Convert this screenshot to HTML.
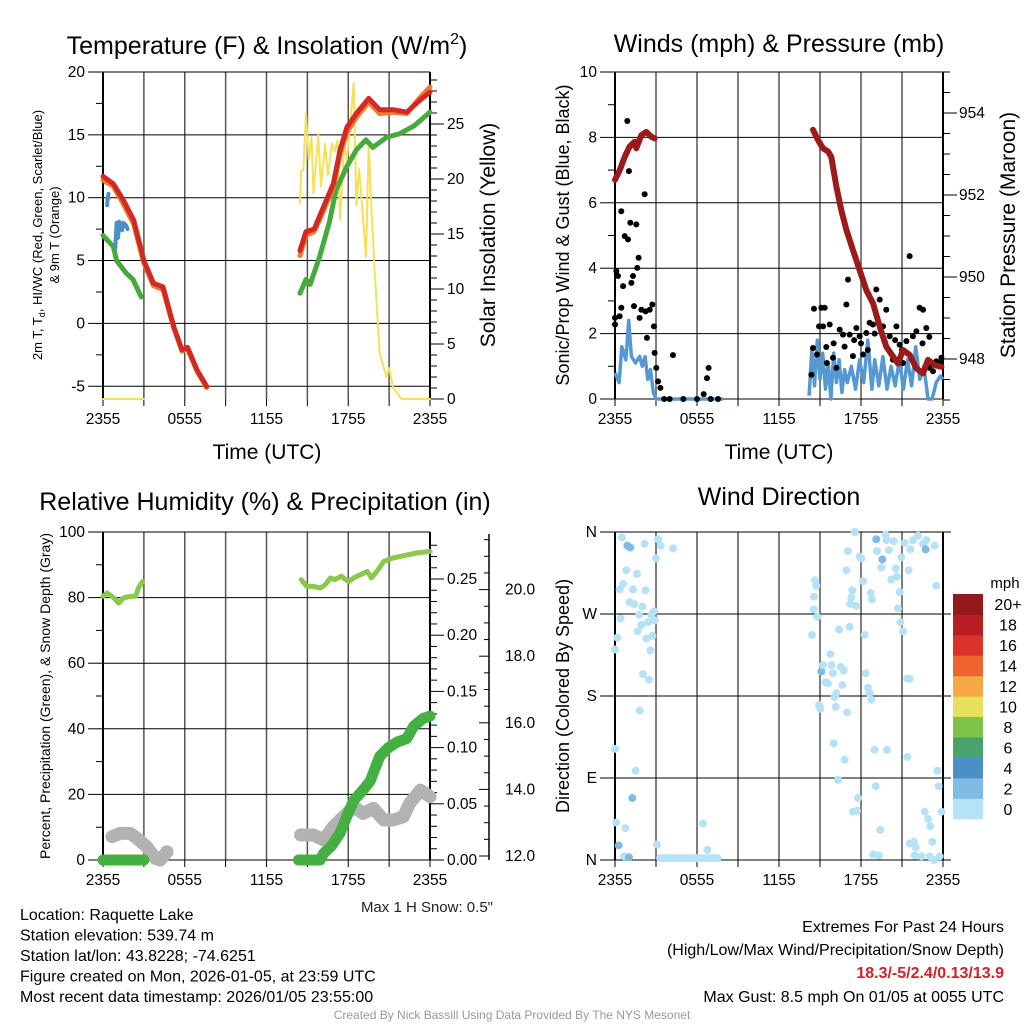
<!DOCTYPE html>
<html><head><meta charset="utf-8"><style>
html,body{margin:0;padding:0;background:#fff;}
svg{display:block;font-family:"Liberation Sans",sans-serif;}
</style></head><body>
<svg id="s" width="1024" height="1024" viewBox="0 0 1024 1024" xmlns="http://www.w3.org/2000/svg">
<rect width="1024" height="1024" fill="#fff"/>
<g id="g"></g>
</svg>
<script>
// ---------- DATA ----------
const tempT=[0,0.76,1.5,2.25,3,3.7,4.4,5.2,5.8,6.2,6.9,7.6,null,14.46,14.9,15.5,16.2,16.9,17.4,17.9,18.6,19.5,20.3,21.3,22.3,23.3,24];
const tempV=[11.7,11.1,9.8,8.2,5.0,3.2,2.9,-0.3,-2.1,-1.9,-3.7,-5.0,null,5.8,7.3,7.5,9.3,11.1,13.8,15.6,16.7,17.9,17.0,17.0,16.8,17.8,18.4];
const t9V=[11.4,10.9,9.5,7.9,4.8,3.0,2.7,-0.4,-2.2,-2.0,-3.8,-5.1,null,5.4,7.0,7.3,9.0,10.8,13.5,15.2,16.4,17.6,16.7,16.8,16.7,18.0,18.8];
const dewT=[0,0.76,1,1.7,2.2,2.8,null,14.46,14.9,15.2,15.9,16.6,17.1,17.9,18.6,19.3,19.8,20.8,21.8,22.8,24];
const dewV=[7.0,6.1,5.0,4.0,3.5,2.1,null,2.4,3.5,3.1,5.3,8.0,10.6,12.5,13.8,14.6,14.0,14.8,15.1,15.7,16.8];
const wcT=[0.3,0.35,0.4,null,0.9,1.0,1.1,1.2,1.4,1.5,1.7,1.8];
const wcV=[9.4,10.0,10.3,null,6.0,8.0,6.8,8.1,7.4,8.0,7.8,7.5];
const solT=[0,3,null,14.46,14.55,14.7,14.9,15.1,15.3,15.45,15.8,16.0,16.3,16.5,16.8,17.0,17.2,17.4,17.7,17.9,18.4,18.6,18.8,19.3,19.5,19.7,19.9,20.0,20.3,20.8,21.0,21.3,21.9,24];
const solV=[0,0,null,17.8,20.8,20.8,26.0,21.7,23.8,18.7,24.0,19.3,23.2,20.3,23.2,22.5,23.5,16.3,23.2,21.7,28.7,17.6,20.9,12.9,23.2,17.3,12.7,10.3,4.2,2.0,2.8,1.0,0,0];

const wndT=[0,0.3,0.5,0.8,1.0,1.2,1.5,1.8,2.0,2.2,2.4,2.6,2.8,3.0,7.9,null,14.2,14.4,14.6,14.8,15.0,15.2,15.4,15.6,15.8,16.0,16.2,16.4,16.6,16.8,17.0,17.3,17.6,17.9,18.2,18.5,18.8,19.0,19.3,19.6,19.9,20.2,20.5,20.8,21.1,21.4,21.7,22.0,22.3,22.6,22.9,23.2,23.5,23.8,24];
const wndV=[0.8,0.5,1.6,1.2,2.4,1.3,1.1,1.3,1.0,1.3,0.6,0.9,0.2,0,0,null,0.1,1.5,0.4,1.8,0.6,1.4,0.3,1.1,0,1.4,0.5,1.2,0.2,0.9,0.5,1.0,0.3,1.2,0.5,1.8,0.3,1.2,0.4,1.3,0.3,1.0,0.4,1.2,0.3,1.2,0.4,1.6,0.6,1.0,0,0,0.5,0.7,0.6];
const gustT=[0,0,0.1,0.22,0.34,0.46,0.46,0.59,0.71,0.9,0.95,1.02,1.12,1.2,1.32,1.39,1.56,1.63,1.73,1.8,1.93,2.17,2.24,2.34,2.54,2.73,2.85,2.9,3.02,3.15,3.32,4.24,6.49,6.73,6.85,7.54,3.6,4.0,5.0,6.0,7.0,
14.37,14.49,14.56,14.78,14.93,15.1,15.22,15.34,15.46,15.71,15.95,16.2,16.44,16.68,16.93,17.05,17.17,17.41,17.66,17.9,18.15,18.39,18.63,18.88,19.12,19.37,19.61,19.85,20.1,20.34,20.59,20.83,21.07,21.32,21.56,21.8,22.05,22.29,22.54,22.78,23.02,23.27,23.51,23.76,23.88,17.5,18.0,18.5,19.0,16.0,15.5,20.5,21.0,22.5,23.0,19.7,16.8];
const gustV=[2.48,2.28,3.91,3.76,2.53,5.74,2.79,3.45,4.98,8.5,4.88,6.97,5.39,3.55,3.76,2.84,5.34,4.01,4.32,2.48,2.73,6.26,2.68,1.87,2.73,2.89,2.22,1.41,0.95,0.54,0.34,1.34,0.15,0.64,0.95,0,0,0,0,0,0,
0.74,1.56,2.76,1.36,2.22,2.79,2.22,2.79,1.59,2.28,1.26,0.95,2.12,1.97,2.89,3.65,1.97,1.31,2.17,1.92,1.36,2.02,2.33,2.28,3.35,3.04,2.22,2.73,1.92,1.2,2.22,1.66,1.1,1.77,4.37,1.92,2.07,2.79,2.73,2.17,0.95,0.85,1.15,1.1,1.26,1.8,1.7,1.5,2.0,1.7,1.1,1.8,1.5,1.7,1.9,1.8,1.6];
const presT=[0,0.34,0.71,1.07,1.44,1.56,1.93,2.29,2.66,2.9,null,14.49,14.85,15.22,15.59,15.83,16.2,16.56,16.93,17.41,17.9,18.39,18.88,19.37,19.85,20.34,20.71,21.07,21.56,22.05,22.54,22.9,23.39,23.88];
const presV=[952.37,952.6,952.93,953.18,953.3,953.14,953.46,953.54,953.42,953.38,null,953.59,953.34,953.14,953.06,952.93,952.2,951.63,951.15,950.66,950.17,949.68,949.36,948.79,948.3,948.06,947.89,948.22,948.1,947.77,947.65,947.98,947.85,947.81];

const rhT=[0,0.3,0.8,1.15,1.5,2.0,2.4,2.6,2.9,null,14.55,14.96,15.45,15.94,16.3,16.7,17.0,17.5,18.0,18.4,18.9,19.4,19.7,20.1,20.6,21.3,22.1,23.0,24];
const rhV=[80.4,81.4,79.9,78.3,79.9,80.4,80.4,82.9,84.9,null,85.5,83.4,83.4,82.9,83.9,86,85.5,86.5,84.9,86,87,88,86,88,91,92.1,92.8,93.6,94.1];
const pcpT=[0,0.5,1,1.5,2,2.5,3,null,14.35,14.8,15.3,15.94,16.2,16.8,17.4,17.9,18.4,19.0,19.6,20.3,20.95,21.6,22.3,22.8,23.5,24];
const pcpV=[0,0,0,0,0,0,0,null,0,0,0,0,0.006,0.013,0.024,0.039,0.053,0.061,0.07,0.092,0.1,0.105,0.108,0.119,0.126,0.128];
const snowT=[0.66,1.27,2.0,2.5,3.2,3.84,4.2,4.7,null,14.5,15.45,16.2,16.9,17.65,18.4,19.1,19.85,20.6,21.3,22.05,22.5,23.3,24];
const snowV=[12.58,12.68,12.68,12.53,12.28,11.93,11.88,12.13,null,12.63,12.63,12.48,12.88,13.18,13.48,13.28,13.43,13.08,13.08,13.18,13.58,13.98,13.78];

const dirT=[0.51,0.9,1.12,2.17,3.15,3.34,4.24,3.0,0.83,1.61,0.59,0.34,1.32,2.24,1.07,1.39,2.0,1.76,2.85,2.66,2.9,0.41,1.93,2.41,1.66,2.73,2.29,0.17,0,2.59,2.05,2.49,1.8,0,1.51,1.27,0.1,0.76,0.27,0.66,1.02,3.07,6.44,6.76,
14.41,14.54,14.63,14.73,14.56,14.8,14.93,15.02,15.1,15.22,15.41,15.59,15.76,15.83,15.95,16.07,16.2,16.15,16.39,16.51,16.73,16.63,16.0,16.8,16.32,16.98,16.93,17.05,17.17,17.29,17.37,17.22,17.54,17.66,17.9,18.02,18.15,18.27,18.34,18.51,18.63,18.76,18.71,18.8,18.99,19.07,17.41,17.78,17.71,18.88,19.32,19.41,19.12,19.17,19.56,19.49,19.8,19.85,20.05,20.22,20.39,20.54,20.63,20.71,20.83,20.88,21.07,20.95,21.2,21.49,21.61,21.8,21.39,21.56,21.39,19.9,22.17,22.54,22.73,22.78,23.39,23.51,23.59,23.68,23.88,22.66,22.9,23.07,23.22,21.56,21.88,22.0,21.93,22.42,23.02,23.34,23.76,
3.3,3.6,3.9,4.2,4.5,4.8,5.1,5.4,5.7,6.0,6.3,6.6,6.9,7.2,7.5];
const dirV=[354,345,343,347,352,345,342,331,318,314,303,297,297,296,283,281,278,269,273,269,263,265,258,261,251,246,243,244,231,230,204,198,164,122,98,68,41,35,16,4,3,17,40,11,
247,275,307,301,289,267,170,166,207,214,195,194,226,214,205,179,183,168,253,212,208,192,128,110,88,162,318,339,256,288,296,281,360,279,333,331,306,247,205,189,183,176,293,286,121,81,53,68,54,6,5,33,352,339,330,321,357,351,340,308,350,320,311,276,294,261,251,332,348,318,341,351,199,199,113,121,356,347,341,351,345,301,98,81,53,53,45,37,20,18,20,14,5,4,4,0,4,
2,2,2,2,2,2,2,2,2,2,2,2,2,2,2];
const dirSpd=[1,3,3,1,1,1,1,1,1,1,1,1,1,1,1,1,1,1,1,1,1,1,1,1,1,1,1,1,1,1,1,1,1,1,1,3,1,1,3,1,3,1,1,1,
1,1,1,1,1,1,1,1,3,1,1,1,1,1,1,1,1,1,1,1,1,1,1,1,1,1,1,1,1,1,1,1,1,1,1,1,1,1,1,1,1,1,1,1,1,1,1,1,1,1,1,1,3,1,3,1,1,1,1,1,1,1,1,1,1,1,1,1,1,1,1,1,1,1,1,1,1,1,3,1,1,1,1,1,1,1,1,1,1,1,1,1,1,1,1,1,1,1,1,
1,1,1,1,1,1,1,1,1,1,1,1,1,1,1];
const cbLabels=["0","2","4","6","8","10","12","14","16","18","20+"];
const cbColors=["#b6e2f8","#80bbe4","#4a8fc6","#48a36c","#7ec24a","#e6e15a","#f5a845","#ef6530","#da3128","#b91d24","#921a1c"];
const timeTicks=["2355","0555","1155","1755","2355"];

// ---------- HELPERS ----------
const NS="http://www.w3.org/2000/svg";
const G=document.getElementById('g');
const TK=15.5, TT=25, AT=21;
function el(tag,attrs,parent,txt){const e=document.createElementNS(NS,tag);for(const k in attrs)e.setAttribute(k,attrs[k]);if(txt!==undefined)e.textContent=txt;(parent||G).appendChild(e);return e;}
function grp(name){const g=el('g',{});return g;}
function txt(p,x,y,s,size,anchor,extra){const a=Object.assign({x:x,y:y,'font-size':size,'text-anchor':anchor||'middle',fill:'#000'},extra||{});return el('text',a,p,s);}
function linePath(T,V,fx,fy){let d='',pen=false;for(let i=0;i<T.length;i++){if(T[i]===null){pen=false;continue;}d+=(pen?'L':'M')+fx(T[i]).toFixed(1)+' '+fy(V[i]).toFixed(1);pen=true;}return d;}

function panel(name,x0,x1,y0,y1,hGridVals,fy){
  const g=grp(name+'-grid');
  const fx=h=>x0+h*(x1-x0)/24;
  for(let i=0;i<=8;i++){const x=fx(i*3);const l=el('line',{x1:x,x2:x,y1:y0,y2:y1,stroke:(i==0||i==8)?'#000':'#555','stroke-width':(i==0||i==8)?2:1.5},g);}
  hGridVals.forEach(v=>{const y=fy(v);const l=el('line',{x1:x0,x2:x1,y1:y,y2:y,stroke:'#000','stroke-width':1},g);});
  const tg=grp(name+'-x-ticks');
  for(let i=0;i<=8;i++){const x=fx(i*3);el('line',{x1:x,x2:x,y1:y1,y2:y1+7,stroke:'#000','stroke-width':1},tg);}
  timeTicks.forEach((s,i)=>{const t=txt(tg,fx(i*6),y1+25,s,TK);});
  return fx;
}

// ---------- PANEL 1: Temperature ----------
(function(){
  const x0=103,x1=430,y0=72,y1=399;
  const fy=v=>72+(20-v)*12.57;
  const fyS=v=>399-v*11;
  const fx=panel('temp',x0,x1,y0,y1,[20,15,10,5,0,-5],fy);
  const ax=grp('temp-left-axis');
  [20,15,10,5,0,-5].forEach(v=>{el('line',{x1:x0-15,x2:x0,y1:fy(v),y2:fy(v),stroke:'#000'},ax);const t=txt(ax,x0-18,fy(v)+5,String(v),TK,'end');});
  [17.5,12.5,7.5,2.5,-2.5].forEach(v=>el('line',{x1:x0-7,x2:x0,y1:fy(v),y2:fy(v),stroke:'#000'},ax));
  const ar=grp('temp-right-axis');
  for(let v=0;v<=29;v++){const big=v%5==0;el('line',{x1:x1,x2:x1+(big?14:7),y1:fyS(v),y2:fyS(v),stroke:'#000'},ar);if(big){const t=txt(ar,x1+17,fyS(v)+5,String(v),TK,'start');}}
  const s=grp('temp-series');
  const add=(n,d,c,w)=>{const p=el('path',{d:d,fill:'none',stroke:c,'stroke-width':w,'stroke-linejoin':'round','stroke-linecap':'round'},s);};
  add('solar-insolation-line',linePath(solT,solV,fx,fyS),'#f6e05a',2);
  add('dewpoint-line',linePath(dewT,dewV,fx,fy),'#46aa3c',5);
  add('temp-9m-line',linePath(tempT,t9V,fx,fy),'#f07a30',5);
  add('temp-2m-line',linePath(tempT,tempV,fx,fy),'#d22a22',5);
  add('windchill-line',linePath(wcT,wcV,fx,fy),'#4a8fc8',4);
  const t1=txt(G,267,54,'Temperature (F) & Insolation (W/m',TT);el('tspan',{dy:-10,'font-size':16},t1,'2');el('tspan',{dy:10},t1,')');
  
  const a1=txt(G,0,0,'',13,'middle',{transform:'translate(42,235) rotate(-90)'});el('tspan',{},a1,'2m T, T');el('tspan',{'font-size':9,dy:3},a1,'d');el('tspan',{dy:-3},a1,', HI/WC (Red, Green, Scarlet/Blue)');
  
  const a1b=txt(G,0,0,'& 9m T (Orange)',13,'middle',{transform:'translate(59,235) rotate(-90)'});
  const a2=txt(G,0,0,'Solar Insolation (Yellow)',AT,'middle',{transform:'translate(495,235) rotate(-90)'});
  const a3=txt(G,267,459,'Time (UTC)',AT);
})();

// ---------- PANEL 2: Winds ----------
(function(){
  const x0=615,x1=943,y0=72,y1=399;
  const fy=v=>399-v*32.7;
  const fyP=p=>359-(p-948)*41;
  const fx=panel('wind',x0,x1,y0,y1,[10,8,6,4,2,0],fy);
  const ax=grp('wind-left-axis');
  for(let v=0;v<=10;v++){const big=v%2==0;el('line',{x1:x0-(big?15:7),x2:x0,y1:fy(v),y2:fy(v),stroke:'#000'},ax);if(big){const t=txt(ax,x0-18,fy(v)+5,String(v),TK,'end');}}
  const ar=grp('pressure-right-axis');
  for(let p=947;p<=955.5;p+=0.5){const y=fyP(p);if(y<y0-1||y>y1+1)continue;const big=Math.abs(p-Math.round(p/2)*2)<0.01;el('line',{x1:x1,x2:x1+(big?14:7),y1:y,y2:y,stroke:'#000'},ar);if(big){const t=txt(ar,x1+16,y+5,String(p),TK,'start');}}
  const s=grp('wind-series');
  const p1=el('path',{d:linePath(wndT,wndV,fx,fy),fill:'none',stroke:'#5599d4','stroke-width':3.5,'stroke-linejoin':'round'},s);
  const gg=grp('gust-points');s.appendChild(gg);
  for(let i=0;i<gustT.length;i++){const c=el('circle',{cx:fx(gustT[i]),cy:fy(gustV[i]),r:3,fill:'#000'},gg);}
  const p2=el('path',{d:linePath(presT,presV,fx,fyP),fill:'none',stroke:'#9b1a1a','stroke-width':6,'stroke-linejoin':'round','stroke-linecap':'round'},s);
  const t=txt(G,779,52,'Winds (mph) & Pressure (mb)',TT);
  const a=txt(G,0,0,'Sonic/Prop Wind & Gust (Blue, Black)',18,'middle',{transform:'translate(569,235) rotate(-90)'});
  const b=txt(G,0,0,'Station Pressure (Maroon)',AT,'middle',{transform:'translate(1015,235) rotate(-90)'});
  const c=txt(G,779,459,'Time (UTC)',AT);
})();

// ---------- PANEL 3: RH & Precip ----------
(function(){
  const x0=103,x1=430,y0=532,y1=860;
  const fy=v=>860-v*3.28;
  const fyP=p=>860-p*1124;
  const fyS=s=>856-(s-12)*33.3;
  const fx=panel('rh',x0,x1,y0,y1,[100,80,60,40,20,0],fy);
  const ax=grp('rh-left-axis');
  for(let v=0;v<=100;v+=10){const big=v%20==0;el('line',{x1:x0-(big?15:7),x2:x0,y1:fy(v),y2:fy(v),stroke:'#000'},ax);if(big){const t=txt(ax,x0-18,fy(v)+5,String(v),TK,'end');}}
  const ar=grp('precip-right-axis');
  for(let i=0;i<=28;i++){const p=i*0.01;const big=i%5==0;el('line',{x1:x1,x2:x1+(big?14:7),y1:fyP(p),y2:fyP(p),stroke:'#000'},ar);if(big){const t=txt(ar,x1+17,fyP(p)+5,p.toFixed(2),TK,'start');}}
  const as=grp('snow-axis');
  el('line',{x1:489,x2:489,y1:534,y2:860,stroke:'#000','stroke-width':1.5},as);
  for(let s=12;s<=21.5;s+=0.5){const y=fyS(s);const big=Math.abs(s-Math.round(s/2)*2)<0.01;el('line',{x1:489,x2:489-(big?10:5),y1:y,y2:y,stroke:'#000'},as);if(big){const t=txt(as,505,y+5,s.toFixed(1),TK,'start');}}
  const s=grp('rh-series');
  const pr=el('path',{d:linePath(rhT,rhV,fx,fy),fill:'none',stroke:'#8cc84b','stroke-width':5,'stroke-linejoin':'round','stroke-linecap':'round'},s);
  const ps=el('path',{d:linePath(snowT,snowV,fx,fyS),fill:'none',stroke:'#b2b2b2','stroke-width':13,'stroke-linejoin':'round','stroke-linecap':'round'},s);
  const pp=el('path',{d:linePath(pcpT,pcpV,fx,fyP),fill:'none',stroke:'#45b042','stroke-width':11,'stroke-linejoin':'round','stroke-linecap':'round'},s);
  const t=txt(G,265,510,'Relative Humidity (%) & Precipitation (in)',TT);
  const a=txt(G,0,0,'Percent, Precipitation (Green), & Snow Depth (Gray)',14,'middle',{transform:'translate(50,696) rotate(-90)'});
  const m=txt(G,493,912,'Max 1 H Snow: 0.5"',15,'end',{fill:'#222'});
})();

// ---------- PANEL 4: Wind Direction ----------
(function(){
  const x0=615,x1=943,y0=532,y1=860;
  const fy=d=>860-d/360*328;
  const fx=panel('dir',x0,x1,y0,y1,[0,90,180,270,360],fy);
  const ax=grp('dir-left-axis');
  [['N',0],['E',90],['S',180],['W',270],['N',360]].forEach(a=>{el('line',{x1:x0-15,x2:x0,y1:fy(a[1]),y2:fy(a[1]),stroke:'#000'},ax);const t=txt(ax,x0-18,fy(a[1])+5,a[0],TK,'end');});
  [0,90,180,270,360].forEach(v=>el('line',{x1:x1,x2:x1+8,y1:fy(v),y2:fy(v),stroke:'#000'},ax));
  const s=grp('dir-points');
  for(let i=0;i<dirT.length;i++){const idx=Math.max(0,Math.min(10,Math.floor(dirSpd[i]/2)));const c=el('circle',{cx:fx(dirT[i]),cy:fy(dirV[i]),r:4,fill:cbColors[idx]},s);}
  const cb=grp('speed-colorbar');
  const n=cbColors.length,top=594,bot=819,h=(bot-top)/n;
  for(let i=0;i<n;i++){const y=bot-(i+1)*h;const r=el('rect',{x:953,y:y,width:30,height:h+0.3,fill:cbColors[i]},cb);const t=txt(cb,1008,y+h/2+6,cbLabels[i],16);}
  const u=txt(cb,1005,588,'mph',15);
  const t=txt(G,779,505,'Wind Direction',TT);
  const a=txt(G,0,0,'Direction (Colored By Speed)',18,'middle',{transform:'translate(569,696) rotate(-90)'});
})();

// ---------- FOOTER ----------
(function(){
  const f=grp('footer');
  const L=[['Location: Raquette Lake',920],['Station elevation: 539.74 m',940.5],['Station lat/lon: 43.8228; -74.6251',961],['Figure created on Mon, 2026-01-05, at 23:59 UTC',981.5],['Most recent data timestamp: 2026/01/05 23:55:00',1002]];
  L.forEach(l=>{const t=txt(f,20,l[1],l[0],16,'start');});
  const R=[['Extremes For Past 24 Hours',932,{}],['(High/Low/Max Wind/Precipitation/Snow Depth)',955,{}],['18.3/-5/2.4/0.13/13.9',978,{fill:'#d0232a','font-weight':'bold'}],['Max Gust: 8.5 mph On 01/05 at 0055 UTC',1002,{}]];
  R.forEach(l=>{const t=txt(f,1004,l[1],l[0],16,'end',l[2]);});
  const c=txt(f,512,1019,'Created By Nick Bassill Using Data Provided By The NYS Mesonet',12,'middle',{fill:'#999'});
})();
</script>
</body></html>
